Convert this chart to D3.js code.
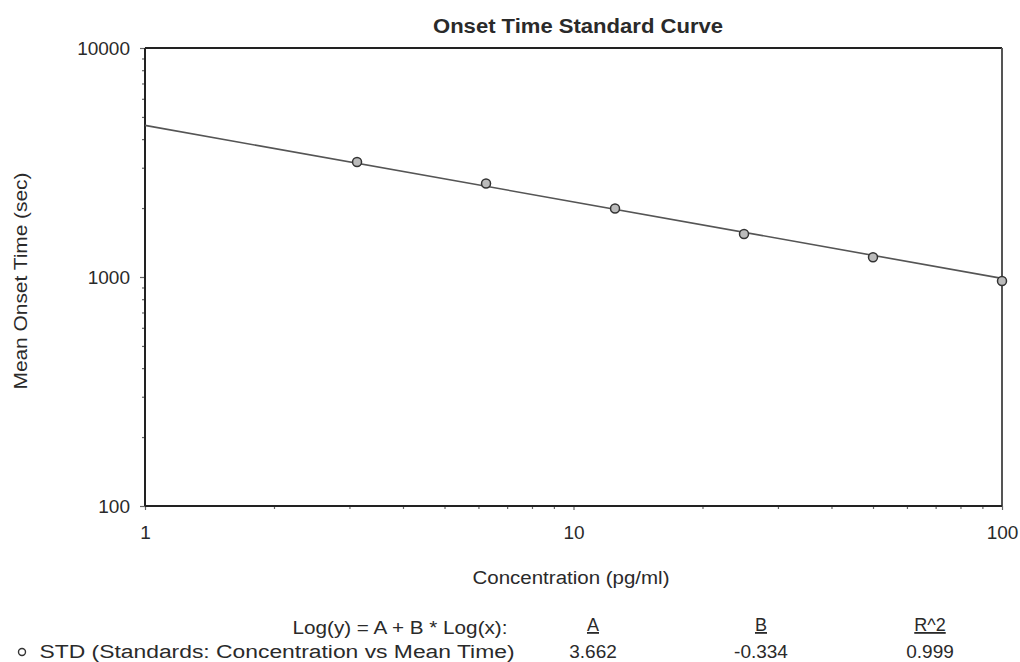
<!DOCTYPE html>
<html><head><meta charset="utf-8">
<script src="https://cdn.jsdelivr.net/npm/d3@7"></script>
<style>body{margin:0;background:#fff;} svg{display:block;} text{font-family:"Liberation Sans",Arial,sans-serif;fill:#2a2a2a;}</style>
</head><body>
<svg id="c" width="1020" height="662"></svg>
<script>
const concentration = [3.125, 6.25, 12.5, 25, 50, 100];
const meanTime = [3180, 2560, 1990, 1540, 1220, 960];
const xTickLabels = [1, 10, 100];
const yTickLabels = [100, 1000, 10000];
const fitA = 3.662, fitB = -0.334, fitR2 = 0.999;
const fitLabels = ["A", "B", "R^2"];
const fitValues = ["3.662", "-0.334", "0.999"];

const svg = d3.select("#c");
const L = 145, R = 1002, T = 48, B = 506;
const x = d3.scaleLog().domain([1, 100]).range([L, R]);
const y = d3.scaleLog().domain([100, 10000]).range([B, T]);

const xMinor = [], yMinor = [];
for (let d = 1; d < 100; d *= 10) for (let k = 2; k <= 9; k++) xMinor.push(d * k);
for (let d = 100; d < 10000; d *= 10) for (let k = 2; k <= 9; k++) yMinor.push(d * k);

const xAxis = d3.axisBottom(x).tickValues(xTickLabels).tickFormat(d3.format("d")).tickSize(4).tickPadding(16);
const yAxis = d3.axisLeft(y).tickValues(yTickLabels).tickFormat(d3.format("d")).tickSize(5).tickPadding(10);

const gx = svg.append("g").attr("transform", `translate(0,${B})`).call(xAxis);
const gy = svg.append("g").attr("transform", `translate(${L},0)`).call(yAxis);
svg.append("g").attr("transform", `translate(0,${B})`)
  .call(d3.axisBottom(x).tickValues(xMinor).tickFormat("").tickSize(3))
  .call(g => g.select(".domain").remove());
svg.append("g").attr("transform", `translate(${L},0)`)
  .call(d3.axisLeft(y).tickValues(yMinor).tickFormat("").tickSize(3))
  .call(g => g.select(".domain").remove());
[gx, gy].forEach(g => {
  g.selectAll("text").style("font-size", "19px").style("fill", "#2a2a2a").style("font-family", "'Liberation Sans',Arial,sans-serif");
  g.select(".domain").remove();
});
svg.selectAll(".tick line").attr("stroke", "#666").attr("stroke-width", 1.2);

// frame
svg.append("line").attr("x1", L).attr("x2", R).attr("y1", T).attr("y2", T).attr("stroke", "#222").attr("stroke-width", 2);
svg.append("line").attr("x1", R).attr("x2", R).attr("y1", T).attr("y2", B).attr("stroke", "#555").attr("stroke-width", 2);
svg.append("line").attr("x1", L).attr("x2", L).attr("y1", T).attr("y2", B).attr("stroke", "#222").attr("stroke-width", 2);
svg.append("line").attr("x1", L).attr("x2", R).attr("y1", B).attr("y2", B).attr("stroke", "#222").attr("stroke-width", 2);

// fit line
const fitY = c => Math.pow(10, fitA + fitB * Math.log10(c));
const line = d3.line().x(d => x(d)).y(d => y(fitY(d)));
svg.append("path").datum([1, 100]).attr("d", line)
  .attr("fill", "none").attr("stroke", "#555").attr("stroke-width", 1.6);

// points
svg.append("g").selectAll("circle").data(concentration).join("circle")
  .attr("cx", d => x(d)).attr("cy", (d, i) => y(meanTime[i])).attr("r", 4.5)
  .attr("fill", "#bbb").attr("stroke", "#333").attr("stroke-width", 1.5);

// title & labels
svg.append("text").attr("x", 578).attr("y", 33).attr("text-anchor", "middle")
  .attr("textLength", 290).attr("lengthAdjust", "spacingAndGlyphs")
  .style("font-size", "20px").style("font-weight", "bold").text("Onset Time Standard Curve");
svg.append("text").attr("x", 571).attr("y", 584).attr("text-anchor", "middle")
  .attr("textLength", 197).attr("lengthAdjust", "spacingAndGlyphs")
  .style("font-size", "18px").text("Concentration (pg/ml)");
svg.append("text").attr("transform", "translate(27,281) rotate(-90)").attr("text-anchor", "middle")
  .attr("textLength", 217).attr("lengthAdjust", "spacingAndGlyphs")
  .style("font-size", "18px").text("Mean Onset Time (sec)");

// legend / fit table
svg.append("text").attr("x", 400).attr("y", 634).attr("text-anchor", "middle")
  .attr("textLength", 215).attr("lengthAdjust", "spacingAndGlyphs")
  .style("font-size", "18px").text("Log(y) = A + B * Log(x):");
const colX = [593, 761, 930];
fitLabels.forEach((t, i) => {
  svg.append("text").attr("x", colX[i]).attr("y", 631).attr("text-anchor", "middle")
    .style("font-size", "18px").style("text-decoration", "underline").text(t);
  svg.append("text").attr("x", colX[i]).attr("y", 658).attr("text-anchor", "middle")
    .style("font-size", "19px").text(fitValues[i]);
});
svg.append("circle").attr("cx", 22).attr("cy", 652).attr("r", 3.5).attr("fill", "none").attr("stroke", "#333").attr("stroke-width", 1.4);
svg.append("text").attr("x", 277).attr("y", 658).attr("text-anchor", "middle")
  .attr("textLength", 475).attr("lengthAdjust", "spacingAndGlyphs")
  .style("font-size", "18px").text("STD (Standards: Concentration vs Mean Time)");
</script>
</body></html>
